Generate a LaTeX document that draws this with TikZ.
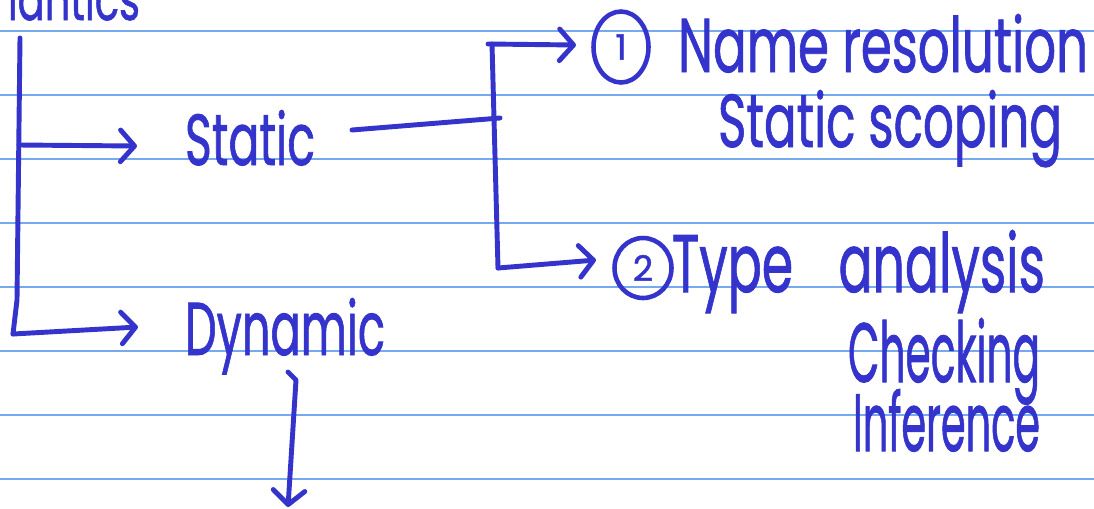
\documentclass[tikz,border=0pt]{standalone}
\usepackage{fontspec}
\setmainfont{Poppins}[FakeBold=1.2]
\usepackage{graphicx}
\usetikzlibrary{arrows.meta,shapes.geometric}
\definecolor{ink}{RGB}{52,52,204}
\definecolor{ruleblue}{RGB}{118,170,238}
\newlength\pxu \setlength\pxu{0.02cm}
\newcommand\hwtext[3]{\resizebox{#1\pxu}{#2\pxu}{#3}}
\begin{document}
\begin{tikzpicture}[x=0.02cm,y=-0.02cm,
  pen/.style={draw=ink, line width=2.8pt, line cap=round, line join=round},
  arr/.style={pen, -{Straight Barb[length=8pt,width=18pt,line cap=round,line join=round]}},
  word/.style={anchor=base west, inner sep=0pt, outer sep=0pt, text=ink, font=\fontsize{30}{36}\selectfont},
  num/.style={ellipse, draw=ink, line width=2.6pt, text=ink, inner sep=0pt, font=\fontsize{20}{24}\selectfont}]
\useasboundingbox (0,0) rectangle (1094,508);
\clip (0,0) rectangle (1094,508);
\fill[white] (0,0) rectangle (1094,508);
\foreach \y in {31,95,...,479} \draw[ruleblue, line width=1.1pt] (0,\y) -- (1094,\y);

% text nodes
\node[word] (sem) at (-72,20) {\hwtext{212}{45}{Semantics}};
\node[word] (static) at (185,165) {\hwtext{130}{55}{Static}};
\node[word] (dyn) at (185,355) {\hwtext{200}{57}{Dynamic}};
\node[num, minimum width=1.1cm, minimum height=1.42cm] (n1) at (621,47) {1};
\node[word] (name) at (678,72) {\hwtext{410}{58}{Name resolution}};
\node[word] (scop) at (718,147) {\hwtext{344}{57}{Static scoping}};
\node[num, minimum width=1.14cm, minimum height=1.2cm] (n2) at (643,268) {2};
\node[word] (type) at (672,292) {\hwtext{373}{62}{Type\hspace{0.9em}analysis}};
\node[word] (chk) at (848,382) {\hwtext{192}{64}{Checking}};
\node[word] (inf) at (853,451) {\hwtext{187}{62}{Inference}};

% junction coordinates
\coordinate (t0) at (20,38);
\coordinate (tS) at (19,145);
\coordinate (tD) at (13,334);
\coordinate (aS) at (137,146);
\coordinate (aD) at (138,327);
\coordinate (s1) at (352,130);
\coordinate (b0) at (500,118);
\coordinate (bt) at (492,44);
\coordinate (bb) at (498,268);
\coordinate (a1) at (576,45);
\coordinate (a2) at (596,260);
\coordinate (d0) at (288,372);
\coordinate (d1) at (296,380);
\coordinate (dE) at (288,507);

% connectors
\draw[pen] (t0) -- (17,300) -- (tD);
\draw[arr] (tS) -- (aS);
\draw[arr] (tD) -- (aD);
\draw[pen] (s1) -- (b0);
\draw[pen] (bt) -- (bb);
\draw[arr] (488,44) -- (a1);
\draw[arr] (bb) -- (a2);
\draw[arr] (d0) -- (d1) -- (dE);
\end{tikzpicture}
\end{document}
